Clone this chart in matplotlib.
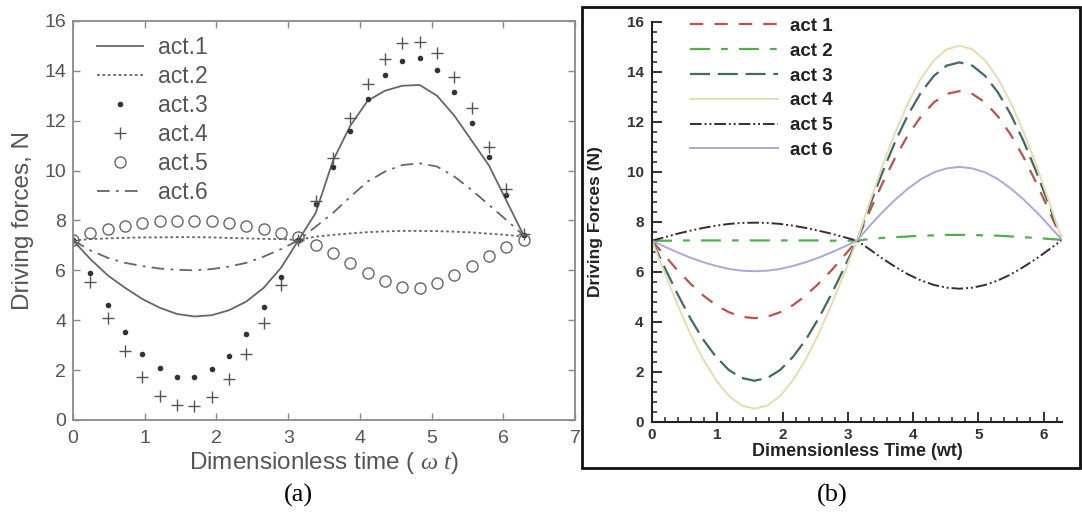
import numpy as np
import matplotlib
matplotlib.use("Agg")
import matplotlib.pyplot as plt
from matplotlib.patches import Rectangle

plt.rcParams['font.family'] = ['Liberation Sans', 'DejaVu Sans']
plt.rcParams['mathtext.fontset'] = 'custom'
plt.rcParams['mathtext.it'] = 'Liberation Serif:italic'
plt.rcParams['mathtext.rm'] = 'Liberation Sans'

# ---------------- data : panel (a) ----------------
t_a = np.linspace(0, 2 * np.pi, 27)          # sample instants k*pi/13
labels_a = ['act.1', 'act.2', 'act.3', 'act.4', 'act.5', 'act.6']
act1_a = [7.2, 6.45, 5.8, 5.3, 4.85, 4.5, 4.25, 4.15, 4.2, 4.4, 4.75, 5.3, 6.1, 7.2,
          8.3, 10.4, 11.8, 12.8, 13.2, 13.4, 13.43, 13.0, 12.2, 11.2, 10.2, 8.8, 7.4]
act2_a = [7.2, 7.25, 7.28, 7.3, 7.32, 7.32, 7.33, 7.33, 7.32, 7.3, 7.28, 7.26, 7.25, 7.22,
          7.35, 7.42, 7.48, 7.53, 7.56, 7.58, 7.58, 7.57, 7.55, 7.52, 7.47, 7.42, 7.35]
act3_a = [7.2, 5.88, 4.61, 3.54, 2.63, 2.07, 1.74, 1.74, 2.04, 2.57, 3.43, 4.52, 5.72, 7.2,
          8.66, 10.16, 11.6, 12.87, 13.85, 14.4, 14.5, 14.03, 13.15, 11.92, 10.53, 9.02, 7.4]
act4_a = [7.2, 5.52, 4.08, 2.77, 1.74, 0.98, 0.6, 0.56, 0.94, 1.65, 2.65, 3.9, 5.41, 7.2,
          8.78, 10.49, 12.1, 13.47, 14.46, 15.1, 15.14, 14.73, 13.76, 12.5, 10.96, 9.26, 7.45]
act5_a = [7.2, 7.51, 7.65, 7.78, 7.89, 7.99, 7.99, 7.99, 7.99, 7.89, 7.78, 7.67, 7.51, 7.32,
          7.02, 6.68, 6.31, 5.88, 5.57, 5.32, 5.28, 5.48, 5.81, 6.17, 6.59, 6.95, 7.22]
act6_a = [7.2, 6.8, 6.5, 6.3, 6.17, 6.07, 6.02, 6.0, 6.05, 6.15, 6.3, 6.55, 6.85, 7.2,
          7.75, 8.3, 8.95, 9.56, 9.96, 10.22, 10.29, 10.16, 9.76, 9.22, 8.62, 8.02, 7.4]
xticks_a = [0, 1, 2, 3, 4, 5, 6, 7]
yticks_a = [0, 2, 4, 6, 8, 10, 12, 14, 16]

# ---------------- data : panel (b) ----------------
t_b = np.linspace(0, 2 * np.pi, 33)          # sample instants j*pi/16
labels_b = ['act 1', 'act 2', 'act 3', 'act 4', 'act 5', 'act 6']
act1_b = [7.25, 6.65, 6.06, 5.53, 5.06, 4.67, 4.39, 4.21, 4.15, 4.21, 4.39, 4.67, 5.06,
          5.53, 6.06, 6.65, 7.25,
          8.44, 9.56, 10.59, 11.49, 12.22, 12.78, 13.12, 13.23, 13.12, 12.78, 12.22, 11.49,
          10.59, 9.56, 8.44, 7.28]
act2_b = [7.25, 7.25, 7.25, 7.26, 7.26, 7.26, 7.26, 7.26, 7.26, 7.26, 7.26, 7.26, 7.26,
          7.26, 7.25, 7.25, 7.25,
          7.32, 7.36, 7.39, 7.42, 7.45, 7.46, 7.48, 7.48, 7.48, 7.46, 7.45, 7.42,
          7.39, 7.36, 7.32, 7.28]
act3_b = [7.25, 6.16, 5.11, 4.14, 3.29, 2.60, 2.08, 1.76, 1.65, 1.76, 2.08, 2.60, 3.29,
          4.14, 5.11, 6.16, 7.25,
          8.66, 10.00, 11.23, 12.30, 13.18, 13.84, 14.25, 14.38, 14.25, 13.84, 13.18, 12.30,
          11.23, 10.00, 8.66, 7.28]
act4_b = [7.25, 5.94, 4.68, 3.51, 2.50, 1.67, 1.04, 0.66, 0.53, 0.66, 1.04, 1.67, 2.50,
          3.51, 4.68, 5.94, 7.25,
          8.80, 10.26, 11.60, 12.77, 13.74, 14.46, 14.90, 15.05, 14.90, 14.46, 13.74, 12.77,
          11.60, 10.26, 8.80, 7.28]
act5_b = [7.25, 7.39, 7.53, 7.65, 7.76, 7.85, 7.92, 7.96, 7.97, 7.96, 7.92, 7.85, 7.76,
          7.65, 7.53, 7.39, 7.25,
          6.90, 6.53, 6.20, 5.90, 5.66, 5.48, 5.37, 5.33, 5.37, 5.48, 5.66, 5.90,
          6.20, 6.53, 6.90, 7.28]
act6_b = [7.25, 7.01, 6.78, 6.57, 6.39, 6.24, 6.12, 6.05, 6.03, 6.05, 6.12, 6.24, 6.39,
          6.57, 6.78, 7.01, 7.25,
          7.85, 8.40, 8.90, 9.34, 9.71, 9.98, 10.14, 10.20, 10.14, 9.98, 9.71, 9.34,
          8.90, 8.40, 7.85, 7.28]
xticks_b = [0, 1, 2, 3, 4, 5, 6]
yticks_b = [0, 2, 4, 6, 8, 10, 12, 14, 16]

# ---------------- figure ----------------
fig = plt.figure(figsize=(10.82, 5.13), dpi=100)

# ===== panel (a) =====
gray_txt = '#555555'
axA = fig.add_axes([0.0675, 0.1813, 0.464, 0.778])
axA.plot(t_a, act1_a, color='#666666', lw=1.3, label=labels_a[0])
axA.plot(t_a, act2_a, color='#666666', lw=1.3, ls=(0, (1.5, 1.5)), label=labels_a[1])
axA.plot(t_a, act3_a, ls='none', marker='o', ms=3, color='#333333', label=labels_a[2])
axA.plot(t_a, act4_a, ls='none', marker='+', ms=9, mew=1.0, color='#555555', label=labels_a[3])
axA.plot(t_a, act5_a, ls='none', marker='o', ms=8, mfc='none', mew=1.0, color='#666666',
         label=labels_a[4])
axA.plot(t_a, act6_a, color='#666666', lw=1.3, ls=(0, (7, 3.5, 1.5, 3.5)), label=labels_a[5])

axA.set_xlim(0, 7)
axA.set_ylim(0, 16)
axA.set_xticks(xticks_a)
axA.set_yticks(yticks_a)
axA.tick_params(direction='in', top=True, right=True, length=5, width=1.0,
                colors='#888888', labelcolor=gray_txt, labelsize=14, pad=5)
axA.tick_params(axis='x', pad=7)
for s in axA.spines.values():
    s.set_color('#8a8a8a')
    s.set_linewidth(1.3)
axA.set_xlabel(r'Dimensionless time ( $\omega\ t$)', fontsize=17.5, color=gray_txt)
axA.set_ylabel('Driving forces, N', fontsize=17.5, color=gray_txt)
axA.xaxis.set_label_coords(0.5, -0.108)
axA.xaxis.label.set_va('center')
axA.yaxis.set_label_coords(-0.0996, 0.5)
axA.yaxis.label.set_va('center')
legA = axA.legend(loc='upper left', bbox_to_anchor=(0.048, 0.962), frameon=False,
                  fontsize=16.5, handlelength=2.0, handletextpad=0.65, labelspacing=0.265,
                  borderpad=0, borderaxespad=0, numpoints=1)
for txt in legA.get_texts():
    txt.set_color(gray_txt)

# ===== panel (b) =====
col_b = ['#b85450', '#4db04a', '#416a60', '#e6dcb4', '#3d2b2b', '#a9a9d9']
axB = fig.add_axes([0.6026, 0.1774, 0.3789, 0.780])
axB.plot(t_b, act1_b, color=col_b[0], lw=1.6, dashes=(6, 5), label=labels_b[0])
axB.plot(t_b, act2_b, color=col_b[1], lw=1.6, dashes=(9, 5, 3, 5), label=labels_b[1])
axB.plot(t_b, act3_b, color=col_b[2], lw=1.6, dashes=(9, 3.5), label=labels_b[2])
axB.plot(t_b, act4_b, color=col_b[3], lw=1.4, label=labels_b[3])
axB.plot(t_b, act5_b, color=col_b[4], lw=1.4, dashes=(6, 1.5, 1, 1.5, 1, 1.5),
         label=labels_b[4])
axB.plot(t_b, act6_b, color=col_b[5], lw=1.4, label=labels_b[5])

axB.set_xlim(0, 2 * np.pi)
axB.set_ylim(0, 16)
axB.set_xticks(xticks_b)
axB.set_yticks(yticks_b)
axB.set_xticks(np.arange(0, 6.3, 0.2), minor=True)
axB.set_yticks(np.arange(0, 16.01, 0.4), minor=True)
for side in ('top', 'right'):
    axB.spines[side].set_visible(False)
for side in ('left', 'bottom'):
    axB.spines[side].set_color('#222222')
    axB.spines[side].set_linewidth(1.5)
axB.tick_params(which='major', direction='in', length=7, width=1.3, colors='#222222',
                labelsize=11, pad=4)
axB.tick_params(which='minor', direction='in', length=3.5, width=1.1, colors='#222222')
axB.tick_params(axis='y', which='major', pad=6)
for lab in axB.get_xticklabels() + axB.get_yticklabels():
    lab.set_fontweight('bold')
    lab.set_color('#333333')
axB.set_xlabel('Dimensionless Time (wt)', fontsize=13, fontweight='bold', color='#222222')
axB.set_ylabel('Driving Forces (N)', fontsize=12.5, fontweight='bold', color='#222222')
axB.xaxis.set_label_coords(0.5, -0.074)
axB.xaxis.label.set_va('center')
axB.yaxis.set_label_coords(-0.139, 0.5)
axB.yaxis.label.set_va('center')
legB = axB.legend(loc='upper left', bbox_to_anchor=(0.093, 1.01), frameon=False,
                  fontsize=13.5, handlelength=4.7, handletextpad=0.64, labelspacing=0.41,
                  borderpad=0, borderaxespad=0)
for txt in legB.get_texts():
    txt.set_fontweight('bold')
    txt.set_color('#222222')

# frame around panel (b)
fig.patches.append(Rectangle((0.5379, 0.0877), 0.9982 - 0.5379, 0.9864 - 0.0877,
                             transform=fig.transFigure, fill=False, lw=2.0,
                             edgecolor='#111111'))

# captions
fig.text(298 / 1082, 1 - 495 / 513, '(a)', family='Liberation Serif', fontsize=19,
         ha='center', va='center')
fig.text(832 / 1082, 1 - 495 / 513, '(b)', family='Liberation Serif', fontsize=19,
         ha='center', va='center')

fig.savefig('out.png', dpi=100)
